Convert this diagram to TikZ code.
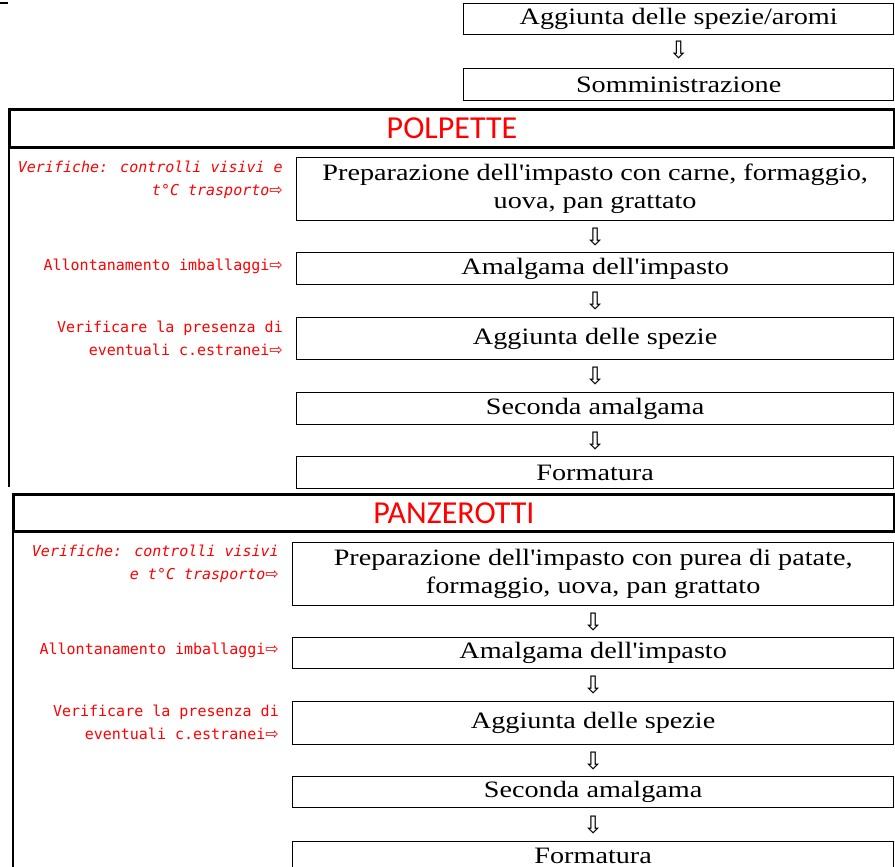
\documentclass[tikz,border=0pt]{standalone}
\usepackage{fontspec}
\usetikzlibrary{calc}
\newfontfamily\boxfont[FakeStretch=1.2]{Liberation Serif}
\newfontfamily\labfont{DejaVu Sans Mono}
\newfontfamily\arrfont{DejaVu Sans}
\newfontfamily\headfont{Carlito}
\newcommand\myrarr{{\arrfont\fontsize{16}{16}\selectfont ⇨}}
\tikzset{
  box/.style={draw, line width=1.3pt, anchor=north west, inner sep=0pt, align=center,
    font=\boxfont\fontsize{23.5}{28}\selectfont},
  head/.style={draw, line width=3pt, anchor=north west, inner sep=0pt, text=red,
    font=\headfont\fontsize{32}{36}\selectfont},
  lab/.style={anchor=east, align=right, text=red, inner sep=0pt,
    font=\labfont\fontsize{15}{23}\selectfont},
  down/.style={inner sep=0pt, font=\arrfont\fontsize{24}{24}\selectfont},
  rule/.style={line width=1.3pt}
}
\begin{document}
\begin{tikzpicture}[x=1pt,y=-1pt]
\useasboundingbox (0,0) rectangle (895,867);
\clip (0,0) rectangle (895,867);
% top fragment
\coordinate (d1) at (0,3);
\coordinate (d2) at (8,3);
\draw[rule] (d1) -- (d2);
\node[box, minimum width=430pt, minimum height=31pt] (t1) at (463,3) {Aggiunta delle spezie/aromi};
\node[box, minimum width=430pt, minimum height=32pt] (t2) at (463,68) {Somministrazione};
\node[down] (at1) at ($(t1.south)!0.45!(t2.north)$) {⇩};
% POLPETTE
\node[head, minimum width=885pt, minimum height=38pt] (hP) at (8,108) {POLPETTE};
\coordinate (lP1) at (9,146);
\coordinate (lP2) at (9,487);
\draw[rule] (lP1) -- (lP2);
\node[box, minimum width=597pt, minimum height=63pt] (P1) at (296,157) {Preparazione dell'impasto con carne, formaggio,\\uova, pan grattato};
\node[box, minimum width=597pt, minimum height=32pt] (P2) at (296,252) {Amalgama dell'impasto};
\node[box, minimum width=597pt, minimum height=42pt] (P3) at (296,317) {Aggiunta delle spezie};
\node[box, minimum width=597pt, minimum height=32pt] (P4) at (296,392) {Seconda amalgama};
\node[box, minimum width=597pt, minimum height=32pt] (P5) at (296,456) {Formatura};
\node[down] (aP1) at ($(P1.south)!0.5!(P2.north)$) {⇩};
\node[down] (aP2) at ($(P2.south)!0.5!(P3.north)$) {⇩};
\node[down] (aP3) at ($(P3.south)!0.5!(P4.north)$) {⇩};
\node[down] (aP4) at ($(P4.south)!0.5!(P5.north)$) {⇩};
\node[lab] (LP1) at (283,180) {\itshape Verifiche: controlli visivi e\\\itshape t°C trasporto\myrarr};
\node[lab] (LP2) at (283,266) {Allontanamento imballaggi\myrarr};
\node[lab] (LP3) at (283,338) {Verificare la presenza di\\eventuali c.estranei\myrarr};
% PANZEROTTI
\node[head, minimum width=881pt, minimum height=37pt] (hZ) at (12,493) {PANZEROTTI};
\coordinate (lZ1) at (13,530);
\coordinate (lZ2) at (13,867);
\draw[rule] (lZ1) -- (lZ2);
\node[box, minimum width=601pt, minimum height=63pt] (Z1) at (292,542) {Preparazione dell'impasto con purea di patate,\\formaggio, uova, pan grattato};
\node[box, minimum width=601pt, minimum height=31pt] (Z2) at (292,637) {Amalgama dell'impasto};
\node[box, minimum width=601pt, minimum height=43pt] (Z3) at (292,701) {Aggiunta delle spezie};
\node[box, minimum width=601pt, minimum height=31pt] (Z4) at (292,776) {Seconda amalgama};
\node[box, minimum width=601pt, minimum height=28pt, text depth=0pt] (Z5) at (292,841) {Formatura};
\node[down] (aZ1) at ($(Z1.south)!0.5!(Z2.north)$) {⇩};
\node[down] (aZ2) at ($(Z2.south)!0.5!(Z3.north)$) {⇩};
\node[down] (aZ3) at ($(Z3.south)!0.5!(Z4.north)$) {⇩};
\node[down] (aZ4) at ($(Z4.south)!0.5!(Z5.north)$) {⇩};
\node[lab] (LZ1) at (279,564) {\itshape Verifiche: controlli visivi\\\itshape e t°C trasporto\myrarr};
\node[lab] (LZ2) at (279,650) {Allontanamento imballaggi\myrarr};
\node[lab] (LZ3) at (279,722) {Verificare la presenza di\\eventuali c.estranei\myrarr};
\end{tikzpicture}
\end{document}
